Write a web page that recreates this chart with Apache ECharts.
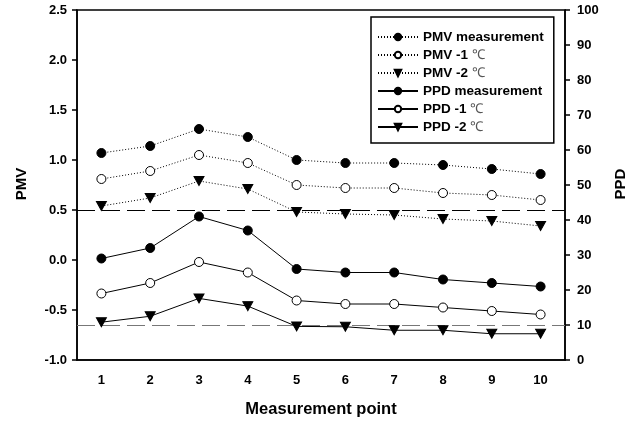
<!DOCTYPE html>
<html>
<head>
<meta charset="utf-8">
<script src="https://cdn.jsdelivr.net/npm/echarts@6/dist/echarts.min.js"></script>
<style>
html,body{margin:0;padding:0;background:#fff;}
#chart{width:642px;height:427px;}
</style>
</head>
<body>
<div id="chart"></div>
<script>
const categories = ['1','2','3','4','5','6','7','8','9','10'];
const pmvMeas   = [1.07, 1.14, 1.31, 1.23, 1.00, 0.97, 0.97, 0.95, 0.91, 0.86];
const pmvMinus1 = [0.81, 0.89, 1.05, 0.97, 0.75, 0.72, 0.72, 0.67, 0.65, 0.60];
const pmvMinus2 = [0.54, 0.62, 0.79, 0.71, 0.48, 0.46, 0.45, 0.41, 0.39, 0.34];
const ppdMeas   = [29, 32, 41, 37, 26, 25, 25, 23, 22, 21];
const ppdMinus1 = [19, 22, 28, 25, 17, 16, 16, 15, 14, 13];
const ppdMinus2 = [10.8, 12.5, 17.6, 15.4, 9.6, 9.5, 8.5, 8.5, 7.5, 7.5];
const pmvRefLine = 0.5;
const ppdRefLine = 10;
const seriesNames = ['PMV measurement', 'PMV -1 ℃', 'PMV -2 ℃', 'PPD measurement', 'PPD -1 ℃', 'PPD -2 ℃'];

const FONT = '"Liberation Sans", Arial, sans-serif';
const chart = echarts.init(document.getElementById('chart'), null, {renderer: 'canvas'});

function mk(name, data, axisIdx, symbol, dotted, extra) {
  const s = {
    name: name,
    type: 'line',
    yAxisIndex: axisIdx,
    data: data,
    symbol: symbol === 'tri' ? 'triangle' : 'circle',
    symbolRotate: symbol === 'tri' ? 180 : 0,
    symbolSize: symbol === 'tri' ? [10, 9] : 9,
    showAllSymbol: true,
    lineStyle: {color: '#000', width: 1, type: dotted ? [1, 2] : 'solid'},
    itemStyle: {color: symbol === 'open' ? '#fff' : '#000', borderColor: '#000', borderWidth: 1},
    emphasis: {disabled: true},
    animation: false,
    z: 3
  };
  return Object.assign(s, extra || {});
}

const option = {
  animation: false,
  backgroundColor: '#fff',
  grid: {left: 77, right: 77, top: 10, bottom: 67, show: true, borderColor: '#000', borderWidth: 1.5, backgroundColor: 'transparent'},
  legend: {
    orient: 'vertical',
    left: 371,
    top: 17,
    padding: [13, 10, 9, 6],
    borderColor: '#000',
    borderWidth: 1.5,
    itemWidth: 40,
    itemHeight: 8,
    itemGap: 4,
    data: seriesNames,
    textStyle: {
      fontFamily: FONT, fontWeight: 'bold', fontSize: 13.5, color: '#000', lineHeight: 14,
      rich: {t: {fontFamily: FONT, fontWeight: 'normal', fontSize: 13.5, color: '#555', lineHeight: 14}}
    },
    formatter: function (n) { return n.replace('℃', '{t|℃}'); }
  },
  xAxis: {
    type: 'category',
    data: categories,
    boundaryGap: true,
    axisLine: {onZero: false, lineStyle: {color: '#000', width: 1.5}},
    axisTick: {alignWithLabel: true, length: 5, lineStyle: {color: '#000', width: 1.5}},
    axisLabel: {margin: 14, fontFamily: FONT, fontWeight: 'bold', fontSize: 13, color: '#000'},
    splitLine: {show: false}
  },
  yAxis: [
    {
      type: 'value', min: -1, max: 2.5, interval: 0.5, position: 'left',
      axisLine: {show: true, onZero: false, lineStyle: {color: '#000', width: 1.5}},
      axisTick: {show: true, length: 5, lineStyle: {color: '#000', width: 1.5}},
      axisLabel: {margin: 10, fontFamily: FONT, fontWeight: 'bold', fontSize: 13, color: '#000',
        formatter: function (v) { return v.toFixed(1); }},
      splitLine: {show: false}
    },
    {
      type: 'value', min: 0, max: 100, interval: 10, position: 'right',
      axisLine: {show: true, onZero: false, lineStyle: {color: '#000', width: 1.5}},
      axisTick: {show: true, length: 5, lineStyle: {color: '#000', width: 1.5}},
      axisLabel: {margin: 12, fontFamily: FONT, fontWeight: 'bold', fontSize: 13, color: '#000'},
      splitLine: {show: false}
    }
  ],
  graphic: [
    {type: 'text', x: 22, y: 184, rotation: Math.PI / 2,
      style: {text: 'PMV', font: 'bold 15px ' + FONT, fill: '#000', textAlign: 'center', textVerticalAlign: 'middle'}},
    {type: 'text', x: 621, y: 184, rotation: Math.PI / 2,
      style: {text: 'PPD', font: 'bold 15px ' + FONT, fill: '#000', textAlign: 'center', textVerticalAlign: 'middle'}},
    {type: 'text', x: 321, y: 409,
      style: {text: 'Measurement point', font: 'bold 16.5px ' + FONT, fill: '#000', textAlign: 'center', textVerticalAlign: 'middle'}}
  ],
  series: [
    mk(seriesNames[0], pmvMeas, 0, 'filled', true, {
      markLine: {silent: true, symbol: 'none', label: {show: false},
        lineStyle: {color: '#000', width: 1, type: [18, 7]},
        data: [{yAxis: pmvRefLine}], z: 1}
    }),
    mk(seriesNames[1], pmvMinus1, 0, 'open', true),
    mk(seriesNames[2], pmvMinus2, 0, 'tri', true),
    mk(seriesNames[3], ppdMeas, 1, 'filled', false, {
      markLine: {silent: true, symbol: 'none', label: {show: false},
        lineStyle: {color: '#777', width: 1, type: [18, 7]},
        data: [{yAxis: ppdRefLine}], z: 1}
    }),
    mk(seriesNames[4], ppdMinus1, 1, 'open', false),
    mk(seriesNames[5], ppdMinus2, 1, 'tri', false)
  ]
};
chart.setOption(option);
</script>
</body>
</html>
